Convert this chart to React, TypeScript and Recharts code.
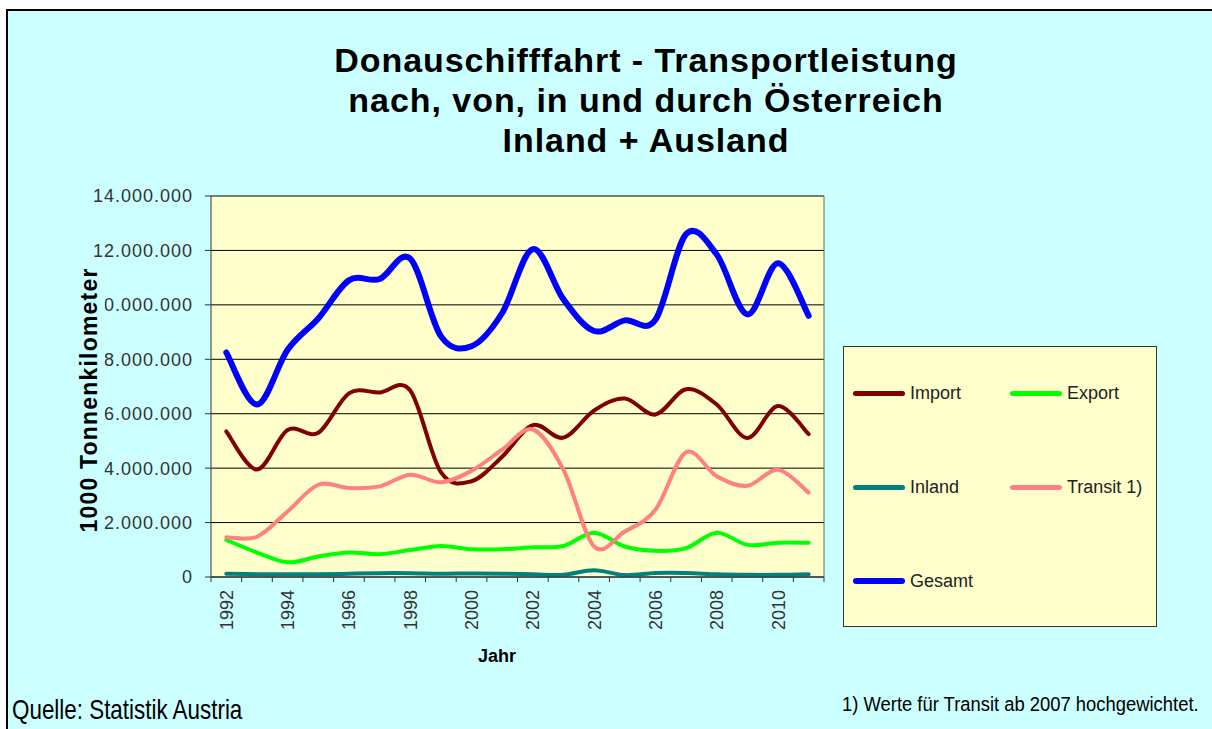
import { LineChart, Line, XAxis, YAxis, CartesianGrid, ReferenceLine } from 'recharts'

// Donauschifffahrt – Transportleistung in 1000 Tonnenkilometer
const years = [1992, 1993, 1994, 1995, 1996, 1997, 1998, 1999, 2000, 2001, 2002, 2003, 2004, 2005, 2006, 2007, 2008, 2009, 2010, 2011]
const yearLabels = [1992, 1994, 1996, 1998, 2000, 2002, 2004, 2006, 2008, 2010]
const yTicks = [0, 2000000, 4000000, 6000000, 8000000, 10000000, 12000000, 14000000]

const importValues = [5350000, 3950000, 5400000, 5300000, 6750000, 6780000, 6850000, 3850000, 3520000, 4420000, 5580000, 5120000, 6120000, 6560000, 5970000, 6900000, 6340000, 5110000, 6280000, 5250000]
const exportValues = [1360000, 900000, 540000, 750000, 900000, 840000, 990000, 1140000, 1020000, 1020000, 1090000, 1140000, 1630000, 1120000, 960000, 1060000, 1630000, 1180000, 1260000, 1260000]
const inlandValues = [120000, 100000, 100000, 100000, 120000, 140000, 140000, 120000, 130000, 120000, 100000, 80000, 250000, 70000, 150000, 150000, 100000, 80000, 80000, 100000]
const transitValues = [1460000, 1480000, 2410000, 3390000, 3270000, 3330000, 3760000, 3480000, 3900000, 4680000, 5420000, 3940000, 1120000, 1670000, 2470000, 4580000, 3700000, 3350000, 3940000, 3100000]
const gesamtValues = [8250000, 6340000, 8350000, 9500000, 10900000, 10950000, 11700000, 8850000, 8480000, 9700000, 12050000, 10200000, 9040000, 9430000, 9450000, 12600000, 11850000, 9650000, 11530000, 9600000]

const data = years.map((year, i) => ({
  year,
  import: importValues[i],
  export: exportValues[i],
  inland: inlandValues[i],
  transit: transitValues[i],
  gesamt: gesamtValues[i]
}))

const series = [
  { key: 'import', name: 'Import', color: '#800000', width: 4 },
  { key: 'export', name: 'Export', color: '#00FF00', width: 4 },
  { key: 'inland', name: 'Inland', color: '#008080', width: 4 },
  { key: 'transit', name: 'Transit 1)', color: '#FF8080', width: 4 },
  { key: 'gesamt', name: 'Gesamt', color: '#0000FF', width: 6 }
]

// boundaries between categories, where Excel puts its tick marks
const xBoundaries = [...years.map(y => y - 0.5), years[years.length - 1] + 0.5]
const xTicks = [...xBoundaries, ...yearLabels].sort((a, b) => a - b)

const FONT = '"Liberation Sans", Arial, sans-serif'

const formatDe = (v: number) => String(v).replace(/\B(?=(\d{3})+(?!\d))/g, '.')

// Excel-like smoothed line (Catmull-Rom through the points)
const excelCurve: any = (context: any) => {
  let pts: number[][] = []
  return {
    areaStart() {},
    areaEnd() {},
    lineStart() { pts = [] },
    point(x: number, y: number) { pts.push([+x, +y]) },
    lineEnd() {
      if (!pts.length) return
      context.moveTo(pts[0][0], pts[0][1])
      for (let i = 0; i < pts.length - 1; i++) {
        const p0 = pts[i - 1] || pts[i]
        const p1 = pts[i]
        const p2 = pts[i + 1]
        const p3 = pts[i + 2] || pts[i + 1]
        context.bezierCurveTo(
          p1[0] + (p2[0] - p0[0]) / 6, p1[1] + (p2[1] - p0[1]) / 6,
          p2[0] - (p3[0] - p1[0]) / 6, p2[1] - (p3[1] - p1[1]) / 6,
          p2[0], p2[1]
        )
      }
    }
  }
}

const YearTick = ({ x, y, payload }: any) => {
  const v = payload.value
  if (!Number.isInteger(v)) {
    return <line x1={x} y1={y} x2={x} y2={y + 5} stroke="#333" />
  }
  return (
    <g transform={`translate(${x},${y})`}>
      <text
        transform="rotate(-90)"
        x={-13}
        y={0}
        dy="0.36em"
        textAnchor="end"
        fontSize={18}
        fontFamily={FONT}
        fill="#333"
      >
        {v}
      </text>
    </g>
  )
}

export default function App() {
  return (
    <div style={{ position: 'fixed', left: 0, top: 0, width: 1212, height: 729, background: '#fff', overflow: 'hidden' }}>
      <div style={{
        position: 'absolute', left: 6, top: 9, width: 1220, height: 740,
        background: '#CCFFFF', borderTop: '2px solid #000', borderLeft: '2px solid #000'
      }} />

      {/* Title */}
      <div style={{
        position: 'absolute', left: 246, top: 40, width: 800, textAlign: 'center',
        fontFamily: FONT, fontWeight: 'bold', fontSize: 34, letterSpacing: 0.95,
        lineHeight: '40px', color: '#000', whiteSpace: 'nowrap'
      }}>
        <div>Donauschifffahrt - Transportleistung</div>
        <div>nach, von, in und durch Österreich</div>
        <div>Inland + Ausland</div>
      </div>

      <div style={{ position: 'absolute', left: 0, top: 0 }}>
        <LineChart
          width={1212}
          height={729}
          data={data}
          margin={{ top: 196, right: 388, left: 0, bottom: 92 }}
        >
          <CartesianGrid vertical={false} stroke="#000" fill="#FFFFCC" fillOpacity={1} />
          <XAxis
            dataKey="year"
            type="number"
            domain={[xBoundaries[0], xBoundaries[xBoundaries.length - 1]]}
            ticks={xTicks}
            interval={0}
            height={60}
            tickSize={0}
            tickMargin={0}
            tickLine={false}
            tick={<YearTick />}
            axisLine={{ stroke: '#333' }}
          />
          <YAxis
            domain={[0, 14000000]}
            ticks={yTicks}
            interval={0}
            width={211}
            tickSize={6}
            tickMargin={12}
            tickFormatter={formatDe}
            tick={{ fontSize: 18, fill: '#333', fontFamily: FONT, letterSpacing: 1 }}
            tickLine={{ stroke: '#333' }}
            axisLine={{ stroke: '#333' }}
          />
          <ReferenceLine x={xBoundaries[xBoundaries.length - 1]} stroke="#666" />
          {series.map(s => (
            <Line
              key={s.key}
              dataKey={s.key}
              name={s.name}
              type={excelCurve}
              stroke={s.color}
              strokeWidth={s.width}
              strokeLinecap="round"
              dot={false}
              activeDot={false}
              isAnimationActive={false}
            />
          ))}
        </LineChart>
      </div>

      {/* Y axis title (with background, hides part of a tick label like the original) */}
      <div style={{
        position: 'absolute', left: 89, top: 400, transform: 'translate(-50%, -50%) rotate(-90deg)',
        background: '#CCFFFF', padding: '2px 4px', whiteSpace: 'nowrap',
        fontFamily: FONT, fontWeight: 'bold', fontSize: 23, letterSpacing: 1.2, color: '#000'
      }}>
        1000 Tonnenkilometer
      </div>

      {/* X axis title */}
      <div style={{
        position: 'absolute', left: 497, top: 646, transform: 'translateX(-50%)',
        fontFamily: FONT, fontWeight: 'bold', fontSize: 18, color: '#000'
      }}>
        Jahr
      </div>

      {/* Legend */}
      <div style={{
        position: 'absolute', left: 843, top: 346, width: 312, height: 279,
        background: '#FFFFCC', border: '1px solid #333'
      }}>
        {series.map((s, i) => {
          const col = i % 2
          const row = Math.floor(i / 2)
          return (
            <div key={s.key} style={{
              position: 'absolute', left: 9 + col * 157, top: 46 + row * 94 - 12,
              display: 'flex', alignItems: 'center', height: 24
            }}>
              <div style={{ width: 52, height: s.width === 6 ? 6 : 5, borderRadius: 3, background: s.color }} />
              <span style={{ marginLeft: 5, fontFamily: FONT, fontSize: 18, color: '#222' }}>{s.name}</span>
            </div>
          )
        })}
      </div>

      {/* Footer */}
      <div style={{
        position: 'absolute', left: 12, top: 694, fontFamily: FONT, fontSize: 28,
        color: '#000', whiteSpace: 'nowrap', transform: 'scaleX(0.8)', transformOrigin: 'left top'
      }}>
        Quelle: Statistik Austria
      </div>
      <div style={{
        position: 'absolute', right: 13, top: 693, fontFamily: FONT, fontSize: 20,
        color: '#000', whiteSpace: 'nowrap', transform: 'scaleX(0.92)', transformOrigin: 'right top'
      }}>
        1) Werte für Transit ab 2007 hochgewichtet.
      </div>
    </div>
  )
}
